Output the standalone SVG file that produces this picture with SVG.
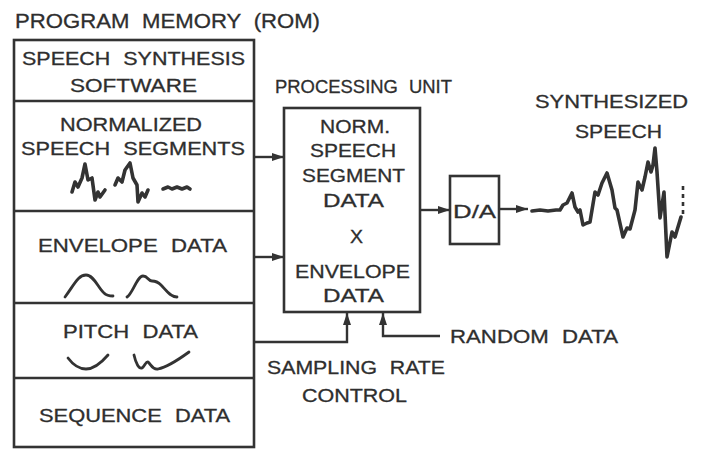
<svg xmlns="http://www.w3.org/2000/svg" width="704" height="449" viewBox="0 0 704 449">
<style>
text{font-family:"Liberation Sans",Arial,sans-serif;font-size:18.5px;fill:#2e2e2e;stroke:#2e2e2e;stroke-width:0.3;word-spacing:6px}
.t{font-size:20px}
.box{fill:none;stroke:#333;stroke-width:2.6}
.ln{fill:none;stroke:#333;stroke-width:2.4}
.w{fill:none;stroke:#333;stroke-width:2.8;stroke-linejoin:round;stroke-linecap:round}
.wt{fill:none;stroke:#333;stroke-width:3.6;stroke-linejoin:round;stroke-linecap:round}
</style>
<defs>
<marker id="ah" viewBox="0 0 12 8" refX="12" refY="4" markerWidth="12" markerHeight="8" markerUnits="userSpaceOnUse" orient="auto">
<path d="M0,0 L12,4 L0,8 Z" fill="#333"/>
</marker>
</defs>
<rect width="704" height="449" fill="#fff"/>

<g id="memory">
<text class="t" x="15" y="28" textLength="305" lengthAdjust="spacingAndGlyphs">PROGRAM MEMORY (ROM)</text>
<rect class="box" x="14" y="40" width="240" height="407"/>
<line class="ln" x1="14" y1="101" x2="254" y2="101"/>
<line class="ln" x1="14" y1="211" x2="254" y2="211"/>
<line class="ln" x1="14" y1="303" x2="254" y2="303"/>
<line class="ln" x1="14" y1="378" x2="254" y2="378"/>
</g>

<g id="software">
<text x="22" y="65" textLength="223" lengthAdjust="spacingAndGlyphs">SPEECH SYNTHESIS</text>
<text x="70" y="92" textLength="127" lengthAdjust="spacingAndGlyphs">SOFTWARE</text>
</g>

<g id="segments">
<text x="60" y="131" textLength="142" lengthAdjust="spacingAndGlyphs">NORMALIZED</text>
<text x="21" y="155" textLength="224" lengthAdjust="spacingAndGlyphs">SPEECH SEGMENTS</text>
<polyline class="wt" points="72,192 75,182 78,187 82,178 85,164 88,180 92,178 95,200 98,192 100,197 105,190"/>
<polyline class="wt" points="115,185 118,178 122,182 125,170 130,163 133,178 137,185 138,202 142,193 145,197 148,190"/>
<polyline class="wt" points="163,189 168,187 172,189 177,187 182,189 187,187 190,189"/>
</g>

<g id="envelope">
<text x="38" y="252" textLength="189" lengthAdjust="spacingAndGlyphs">ENVELOPE DATA</text>
<path class="w" d="M65,297 C74,285 78,275 86,275 C94,275 98,288 104,293 C107,296 110,296 113,296"/>
<path class="w" d="M127,297 C133,293 137,276 143,276 C148,276 148,281 152,281 C156,281 158,282 161,285 C166,290 170,297 177,297"/>
</g>

<g id="pitch">
<text x="63" y="338" textLength="135" lengthAdjust="spacingAndGlyphs">PITCH DATA</text>
<path class="w" d="M68,358 C74,366 80,369 86,369 C94,369 102,362 108,355"/>
<path class="w" d="M134,355 C136,364 139,369 142,368 C145,366 146,361 148,362 C151,364 152,370 158,369 C168,367 178,360 189,352"/>
</g>

<g id="sequence">
<text x="39" y="422" textLength="191" lengthAdjust="spacingAndGlyphs">SEQUENCE DATA</text>
</g>

<g id="processing">
<text x="275" y="93" textLength="177" lengthAdjust="spacingAndGlyphs">PROCESSING UNIT</text>
<rect class="box" x="284" y="108" width="136" height="204"/>
<text x="320" y="133" textLength="70" lengthAdjust="spacingAndGlyphs">NORM.</text>
<text x="310" y="157" textLength="86" lengthAdjust="spacingAndGlyphs">SPEECH</text>
<text x="302" y="182" textLength="103" lengthAdjust="spacingAndGlyphs">SEGMENT</text>
<text x="323" y="207" textLength="61" lengthAdjust="spacingAndGlyphs">DATA</text>
<text x="350" y="243" textLength="13" lengthAdjust="spacingAndGlyphs">X</text>
<text x="295" y="278" textLength="115" lengthAdjust="spacingAndGlyphs">ENVELOPE</text>
<text x="323" y="302" textLength="61" lengthAdjust="spacingAndGlyphs">DATA</text>
</g>

<g id="da">
<rect class="box" x="450" y="176" width="49" height="68"/>
<text x="453" y="218" textLength="43" lengthAdjust="spacingAndGlyphs">D/A</text>
</g>

<g id="output">
<text x="535" y="108" textLength="153" lengthAdjust="spacingAndGlyphs">SYNTHESIZED</text>
<text x="575" y="138" textLength="87" lengthAdjust="spacingAndGlyphs">SPEECH</text>
<polyline class="wt" points="532,211 540,210 548,211 556,210 560,210 563,205 567,203 572,193 575,207 578,212 580,210 583,225 587,223 590,222 595,192 598,195 602,183 607,173 612,190 615,208 617,210 623,237 627,228 630,229 635,210 638,182 642,190 645,177 648,162 651,172 653,165 655,148 657,172 660,218 664,192 667,257 672,232 675,237 681,217"/>
<line x1="683" y1="186" x2="683" y2="214" stroke="#333" stroke-width="2.6" stroke-dasharray="4,4"/>
</g>

<g id="labels">
<text x="450" y="343" textLength="168" lengthAdjust="spacingAndGlyphs">RANDOM DATA</text>
<text x="267" y="374" textLength="178" lengthAdjust="spacingAndGlyphs">SAMPLING RATE</text>
<text x="302" y="402" textLength="105" lengthAdjust="spacingAndGlyphs">CONTROL</text>
</g>

<g id="connectors">
<line class="ln" x1="254" y1="157" x2="284" y2="157" marker-end="url(#ah)"/>
<line class="ln" x1="254" y1="257" x2="284" y2="257" marker-end="url(#ah)"/>
<line class="ln" x1="420" y1="210" x2="450" y2="210" marker-end="url(#ah)"/>
<line class="ln" x1="499" y1="209" x2="528" y2="209" marker-end="url(#ah)"/>
<polyline class="ln" points="254,342 347,342 347,313" marker-end="url(#ah)"/>
<polyline class="ln" points="440,336 383,336 383,313" marker-end="url(#ah)"/>
</g>
</svg>
